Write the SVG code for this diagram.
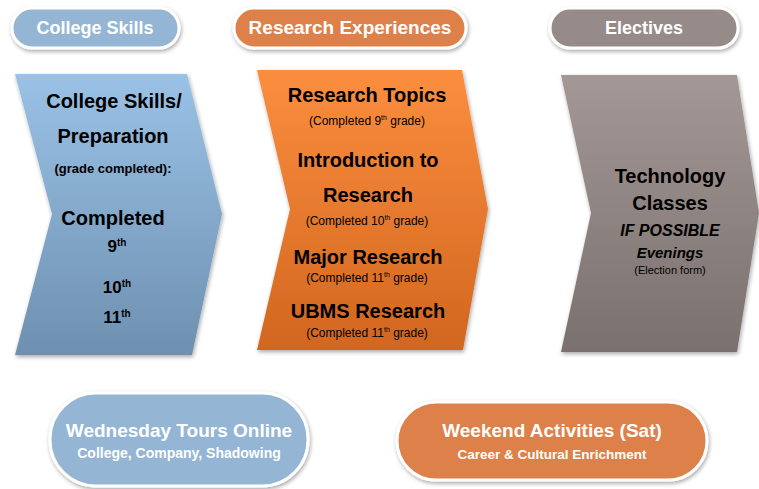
<svg xmlns="http://www.w3.org/2000/svg" width="759" height="489" viewBox="0 0 759 489">
<defs>
<linearGradient id="gBlue" x1="0" y1="0" x2="0" y2="1"><stop offset="0" stop-color="#9AC2E6"/><stop offset="1" stop-color="#6E90B0"/></linearGradient>
<linearGradient id="gOrange" x1="0" y1="0" x2="0" y2="1"><stop offset="0" stop-color="#FB8E3E"/><stop offset="1" stop-color="#D2661F"/></linearGradient>
<linearGradient id="gGrey" x1="0" y1="0" x2="0" y2="1"><stop offset="0" stop-color="#A39896"/><stop offset="1" stop-color="#7A706E"/></linearGradient>
<filter id="sh" x="-10%" y="-10%" width="130%" height="130%"><feGaussianBlur in="SourceAlpha" stdDeviation="2"/><feOffset dx="1" dy="2"/><feComponentTransfer><feFuncA type="linear" slope="0.35"/></feComponentTransfer><feMerge><feMergeNode/><feMergeNode in="SourceGraphic"/></feMerge></filter>
</defs>
<style>
.pill{stroke:#fff;stroke-width:3;filter:url(#sh)}
.ph{font-family:"Liberation Sans",Arial,sans-serif;font-weight:bold;fill:#fff;text-anchor:middle}
.t{font-family:"Liberation Sans",Arial,sans-serif;font-weight:bold;fill:#000;text-anchor:middle}
.s{font-family:"Liberation Sans",Arial,sans-serif;fill:#000;text-anchor:middle}
</style>
<rect width="759" height="489" fill="#fff"/>
<g id="hdr-college">
<rect class="pill" x="12" y="8" width="167" height="40" rx="20" fill="#94B6D4"/>
<text class="ph" x="95" y="34" font-size="18">College Skills</text>
</g>
<g id="hdr-research">
<rect class="pill" x="234" y="8" width="232" height="40" rx="20" fill="#DE8048"/>
<text class="ph" x="350" y="34" font-size="19">Research Experiences</text>
</g>
<g id="hdr-electives">
<rect class="pill" x="550" y="8" width="188" height="40" rx="20" fill="#978B89"/>
<text class="ph" x="644" y="34" font-size="18">Electives</text>
</g>
<g id="chev-college">
<polygon points="15,74 187,74 222,214 192,355 15,355 52,214" fill="url(#gBlue)" filter="url(#sh)"/>
<text class="t" x="114" y="108" font-size="20">College Skills/</text>
<text class="t" x="113" y="143" font-size="20">Preparation</text>
<text class="t" x="113" y="173" font-size="13">(grade completed):</text>
<text class="t" x="113" y="225" font-size="20">Completed</text>
<text class="t" x="117" y="252" font-size="17">9<tspan font-size="10" dy="-6">th</tspan></text>
<text class="t" x="117" y="293" font-size="17">10<tspan font-size="10" dy="-6">th</tspan></text>
<text class="t" x="117" y="323" font-size="17">11<tspan font-size="10" dy="-6">th</tspan></text>
</g>
<g id="chev-research">
<polygon points="257,70 462,70 488,209 463,350 257,350 290,209" fill="url(#gOrange)" filter="url(#sh)"/>
<text class="t" x="367" y="102" font-size="20">Research Topics</text>
<text class="s" x="367" y="125" font-size="12">(Completed 9<tspan font-size="7" dy="-5">th</tspan><tspan dy="5"> grade)</tspan></text>
<text class="t" x="368" y="167" font-size="20">Introduction to</text>
<text class="t" x="368" y="202" font-size="20">Research</text>
<text class="s" x="367" y="225" font-size="12">(Completed 10<tspan font-size="7" dy="-5">th</tspan><tspan dy="5"> grade)</tspan></text>
<text class="t" x="368" y="264" font-size="20">Major Research</text>
<text class="s" x="367" y="282" font-size="12">(Completed 11<tspan font-size="7" dy="-5">th</tspan><tspan dy="5"> grade)</tspan></text>
<text class="t" x="368" y="318" font-size="20">UBMS Research</text>
<text class="s" x="367" y="337" font-size="12">(Completed 11<tspan font-size="7" dy="-5">th</tspan><tspan dy="5"> grade)</tspan></text>
</g>
<g id="chev-electives">
<polygon points="561,75 737,75 759,213 737,352 561,352 591,213" fill="url(#gGrey)" filter="url(#sh)"/>
<text class="t" x="670" y="183" font-size="20">Technology</text>
<text class="t" x="670" y="210" font-size="20">Classes</text>
<text class="t" x="670" y="236" font-size="16" font-style="italic">IF POSSIBLE</text>
<text class="t" x="670" y="258" font-size="15" font-style="italic">Evenings</text>
<text class="s" x="670" y="274" font-size="11">(Election form)</text>
</g>
<g id="pill-wednesday">
<rect class="pill" x="50" y="393" width="258" height="93" rx="46" fill="#94B6D4"/>
<text class="ph" x="179" y="437" font-size="19">Wednesday Tours Online</text>
<text class="ph" x="179" y="458" font-size="14">College, Company, Shadowing</text>
</g>
<g id="pill-weekend">
<rect class="pill" x="397" y="402" width="310" height="78" rx="39" fill="#DE8048"/>
<text class="ph" x="552" y="437" font-size="19">Weekend Activities (Sat)</text>
<text class="ph" x="552" y="459" font-size="13.5">Career &amp; Cultural Enrichment</text>
</g>
<g id="connectors"/>
</svg>
